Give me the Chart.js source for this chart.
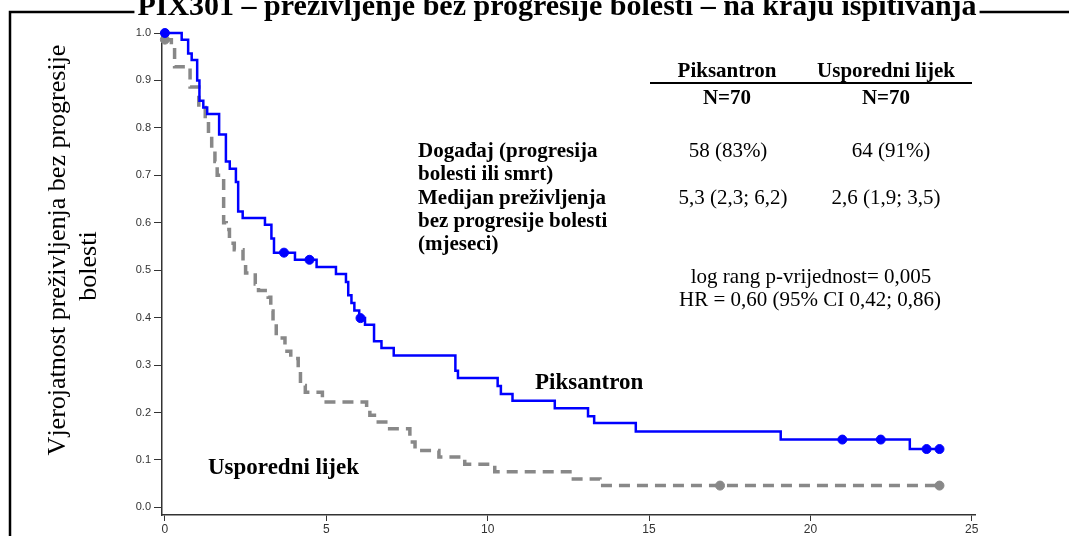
<!DOCTYPE html>
<html>
<head>
<meta charset="utf-8">
<script src="https://cdn.jsdelivr.net/npm/chart.js@4"></script>
<style>
html, body { margin: 0; padding: 0; background: #fff; }
#wrap { position: relative; width: 1069px; height: 536px; }
</style>
</head>
<body>
<div id="wrap"><canvas id="km"></canvas></div>
<script>
// PFS Kaplan-Meier, time in months
const pixTimes = [0, 0.52, 0.72, 0.83, 1.0, 1.07, 1.19, 1.31, 1.68, 1.89, 2.01, 2.2, 2.27, 2.41, 3.1, 3.3, 3.38, 4.03, 4.7, 5.3, 5.61, 5.68, 5.78, 5.87, 6.02, 6.2, 6.48, 6.71, 7.09, 9.0, 9.08, 10.31, 10.41, 10.77, 12.08, 13.11, 13.3, 14.59, 19.08, 23.08, 24.0];
const pixSurv = [1.0, 0.986, 0.957, 0.943, 0.9, 0.857, 0.843, 0.829, 0.786, 0.729, 0.714, 0.686, 0.624, 0.61, 0.596, 0.567, 0.537, 0.522, 0.507, 0.492, 0.475, 0.447, 0.431, 0.415, 0.399, 0.385, 0.35, 0.336, 0.32, 0.288, 0.273, 0.256, 0.239, 0.225, 0.209, 0.192, 0.178, 0.16, 0.143, 0.123, 0.123];
const pixCensorTimes = [0, 3.69, 4.48, 6.06, 20.99, 22.18, 23.6, 24.0];
const pixCensorSurv = [1.0, 0.537, 0.522, 0.399, 0.143, 0.143, 0.123, 0.123];

const cmpTimes = [0, 0.2, 0.3, 0.78, 1.05, 1.25, 1.35, 1.45, 1.55, 1.62, 1.82, 1.9, 2.0, 2.15, 2.42, 2.5, 2.8, 2.9, 3.2, 3.28, 3.35, 3.45, 3.72, 3.9, 4.13, 4.2, 4.35, 4.88, 6.25, 6.35, 6.55, 6.9, 7.59, 7.75, 8.49, 9.29, 10.22, 12.55, 13.48, 24.0];
const cmpSurv = [0.986, 0.971, 0.929, 0.886, 0.843, 0.814, 0.786, 0.757, 0.729, 0.7, 0.6, 0.586, 0.557, 0.543, 0.514, 0.494, 0.471, 0.457, 0.443, 0.414, 0.386, 0.357, 0.329, 0.314, 0.286, 0.257, 0.243, 0.222, 0.208, 0.194, 0.18, 0.166, 0.138, 0.12, 0.106, 0.091, 0.075, 0.06, 0.046, 0.046];
const cmpCensorTimes = [0, 17.2, 24.0];
const cmpCensorSurv = [0.986, 0.046, 0.046];

const xTicks = [0, 5, 10, 15, 20, 25];
const yTicks = [0, 0.1, 0.2, 0.3, 0.4, 0.5, 0.6, 0.7, 0.8, 0.9, 1.0];

const pts = (xs, ys) => xs.map((x, i) => ({ x, y: ys[i] }));

const serif = '"Liberation Serif", "Times New Roman", serif';

// title, frame, y title and the table of results
const textPlugin = {
  id: 'texts',
  afterDraw(chart) {
    const ctx = chart.ctx;
    ctx.save();
    // frame
    ctx.strokeStyle = '#000';
    ctx.lineWidth = 2.5;
    ctx.beginPath();
    ctx.moveTo(10, 536); ctx.lineTo(10, 12); ctx.lineTo(1069, 12);
    ctx.stroke();
    // title
    ctx.font = 'bold 30px ' + serif;
    const title = 'PIX301 – preživljenje bez progresije bolesti – na kraju ispitivanja';
    const tw = ctx.measureText(title).width;
    ctx.fillStyle = '#fff';
    ctx.fillRect(557 - tw / 2 - 3, 0, tw + 6, 20);
    ctx.fillStyle = '#000';
    ctx.textAlign = 'center';
    ctx.textBaseline = 'alphabetic';
    ctx.fillText(title, 557, 15);

    // y axis title
    ctx.font = '26px ' + serif;
    ctx.save();
    ctx.translate(65, 250);
    ctx.rotate(-Math.PI / 2);
    ctx.fillText('Vjerojatnost preživljenja bez progresije', 0, 0);
    ctx.restore();
    ctx.save();
    ctx.translate(96, 266);
    ctx.rotate(-Math.PI / 2);
    ctx.fillText('bolesti', 0, 0);
    ctx.restore();

    // table
    ctx.font = 'bold 21px ' + serif;
    ctx.fillText('Piksantron', 727, 77);
    ctx.fillText('Usporedni lijek', 886, 77);
    ctx.fillText('N=70', 727, 104);
    ctx.fillText('N=70', 886, 104);
    ctx.lineWidth = 2;
    ctx.beginPath(); ctx.moveTo(650, 83); ctx.lineTo(972, 83); ctx.stroke();

    ctx.textAlign = 'left';
    const rows = ['Događaj (progresija', 'bolesti ili smrt)', 'Medijan preživljenja', 'bez progresije bolesti', '(mjeseci)'];
    rows.forEach((r, i) => ctx.fillText(r, 418, 157 + i * 23.3));

    ctx.textAlign = 'center';
    ctx.font = '21px ' + serif;
    ctx.fillText('58 (83%)', 728, 157);
    ctx.fillText('64 (91%)', 891, 157);
    ctx.fillText('5,3 (2,3; 6,2)', 733, 204);
    ctx.fillText('2,6 (1,9; 3,5)', 886, 204);
    ctx.fillText('log rang p-vrijednost= 0,005', 811, 283);
    ctx.fillText('HR = 0,60 (95% CI 0,42; 0,86)', 810, 306);

    // curve labels
    ctx.textAlign = 'left';
    ctx.font = 'bold 23px ' + serif;
    ctx.fillText('Piksantron', 535, 389);
    ctx.fillText('Usporedni lijek', 208, 474);
    ctx.restore();
  }
};

new Chart(document.getElementById('km'), {
  type: 'line',
  data: {
    datasets: [
      { label: 'Piksantron', data: pts(pixTimes, pixSurv), stepped: 'before', borderColor: '#0000ff', borderWidth: 2.5, pointRadius: 0, fill: false, clip: false },
      { label: 'Usporedni lijek', data: pts(cmpTimes, cmpSurv), stepped: 'before', borderColor: '#888888', borderWidth: 3.5, borderDash: [11, 7], pointRadius: 0, fill: false, clip: false },
      { type: 'scatter', data: pts(pixCensorTimes, pixCensorSurv), backgroundColor: '#0000ff', borderColor: '#0000ff', pointRadius: 4.5, showLine: false, clip: false },
      { type: 'scatter', data: pts(cmpCensorTimes, cmpCensorSurv), backgroundColor: '#888888', borderColor: '#888888', pointRadius: 4.5, showLine: false, clip: false }
    ]
  },
  options: {
    responsive: true,
    maintainAspectRatio: false,
    animation: false,
    layout: { padding: { top: 33, right: 94, left: 0, bottom: 0 } },
    plugins: { legend: { display: false }, tooltip: { enabled: false } },
    scales: {
      x: {
        type: 'linear', min: -0.09, max: 25.1,
        afterBuildTicks: ax => { ax.ticks = xTicks.map(v => ({ value: v })); },
        afterFit: s => { s.height = 21; },
        grid: { drawOnChartArea: false, tickLength: 6, tickColor: '#333', tickWidth: 1 },
        border: { color: '#333', width: 1.5 },
        ticks: { font: { family: '"Liberation Sans", Arial', size: 12 }, color: '#333', padding: 1, maxRotation: 0, autoSkip: false }
      },
      y: {
        type: 'linear', min: -0.016, max: 1.0,
        afterBuildTicks: ax => { ax.ticks = yTicks.map(v => ({ value: v })); },
        afterFit: s => { s.width = 162; },
        grid: { drawOnChartArea: false, tickLength: 8, tickColor: '#333', tickWidth: 1 },
        border: { color: '#333', width: 1.5 },
        ticks: { callback: v => v.toFixed(1), font: { family: '"Liberation Sans", Arial', size: 11 }, color: '#333', padding: 3, autoSkip: false }
      }
    }
  },
  plugins: [textPlugin]
});
</script>
</body>
</html>
